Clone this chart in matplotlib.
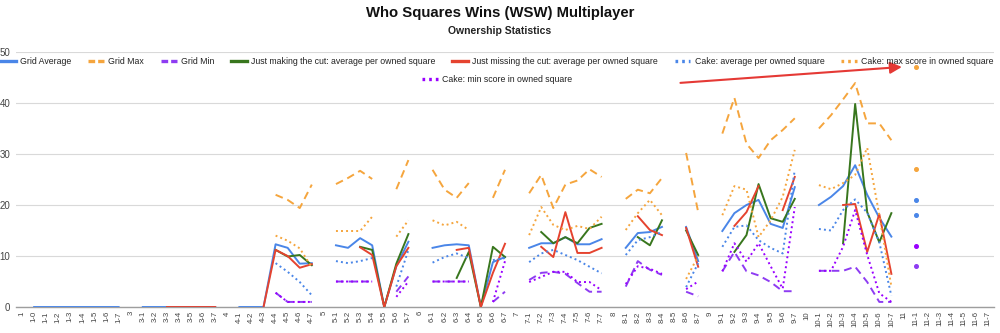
import numpy as np
import matplotlib
matplotlib.use("Agg")
import matplotlib.pyplot as plt
from matplotlib.lines import Line2D

plt.rcParams['font.family'] = ['Liberation Sans', 'DejaVu Sans']

N = None

# x categories (round-level labels)
categories = ["1", "1-0", "1-1", "1-2", "1-3", "1-4", "1-5", "1-6", "1-7",
              "3", "3-1", "3-2", "3-3", "3-4", "3-5", "3-6", "3-7",
              "4", "4-1", "4-2", "4-3", "4-4", "4-5", "4-6", "4-7",
              "5", "5-1", "5-2", "5-3", "5-4", "5-5", "5-6", "5-7",
              "6", "6-1", "6-2", "6-3", "6-4", "6-5", "6-6", "6-7",
              "7", "7-1", "7-2", "7-3", "7-4", "7-5", "7-6", "7-7",
              "8", "8-1", "8-2", "8-3", "8-4", "8-5", "8-6", "8-7",
              "9", "9-1", "9-2", "9-3", "9-4", "9-5", "9-6", "9-7",
              "10", "10-1", "10-2", "10-3", "10-4", "10-5", "10-6", "10-7",
              "11", "11-1", "11-2", "11-3", "11-4", "11-5", "11-6", "11-7"]

grid_avg = [N, 0, 0, 0, 0, 0, 0, 0, 0,
            N, 0, 0, 0, 0, 0, 0, 0,
            N, 0, 0, 0, 12.3, 11.6, 8.5, 8.6,
            N, 12.1, 11.6, 13.5, 12.1, 0, 8.0, 12.8,
            N, 11.6, 12.1, 12.3, 12.1, 0, 8.8, 9.8,
            N, 11.6, 12.5, 12.5, 13.7, 12.3, 12.3, 13.3,
            N, 11.6, 14.5, 14.7, 15.7, N, 15.7, 9.0,
            N, 14.9, 18.4, 20.0, 21.0, 16.3, 15.5, 23.5,
            N, 20.0, 21.6, 23.7, 27.8, 22.0, 17.5, 13.8,
            N, 21.0, N, N, N, N, N, N]

grid_max = [N, N, N, N, N, N, N, N, N,
            N, N, N, N, N, N, N, N,
            N, N, N, N, 22.0, 21.0, 19.4, 24.0,
            N, 24.1, 25.3, 26.7, 25.1, N, 23.1, 28.8,
            N, 26.9, 23.0, 21.4, 24.3, N, 21.4, 26.9,
            N, 22.3, 25.9, 19.4, 24.0, 24.8, 27.0, 25.5,
            N, 21.2, 23.0, 22.3, 25.3, N, 30.2, 18.6,
            N, 34.0, 41.0, 32.0, 29.2, 32.7, 34.7, 37.0,
            N, 35.0, 37.6, 40.7, 43.9, 36.0, 36.0, 32.7,
            N, 47.0, N, N, N, N, N, N]

grid_min = [N, N, N, N, N, N, N, N, N,
            N, N, N, N, N, N, N, N,
            N, N, N, N, 2.8, 1.0, 1.0, 1.0,
            N, 5.0, 5.0, 5.0, 5.0, N, 3.0, 6.0,
            N, 5.0, 5.0, 5.0, 5.0, N, 1.0, 3.0,
            N, 5.3, 6.7, 6.9, 6.5, 4.7, 3.0, 3.0,
            N, 4.0, 9.0, 7.3, 6.3, N, 3.0, 2.1,
            N, 7.0, 10.8, 7.0, 6.2, 4.9, 3.1, 3.1,
            N, 7.1, 7.1, 7.1, 7.9, 4.9, 1.0, 1.0,
            N, 8.0, N, N, N, N, N, N]

making_cut = [N, N, N, N, N, N, N, N, N,
              N, N, N, N, N, N, N, N,
              N, N, N, N, 11.2, 9.9, 10.2, 8.2,
              N, N, N, 11.8, 11.2, 0, 8.5, 14.3,
              N, N, N, 5.7, 10.8, 0, 11.8, 9.8,
              N, N, 14.7, 12.5, 13.7, 12.5, 15.5, 16.3,
              N, N, 13.7, 12.1, 17.0, N, 15.0, 10.2,
              N, N, 10.8, 14.1, 24.1, 17.4, 16.7, 21.2,
              N, N, N, 12.5, 39.8, 18.6, 12.7, 18.4,
              N, N, N, N, N, N, N, N]

missing_cut = [N, N, N, N, N, N, N, N, N,
               N, N, N, 0, 0, 0, 0, 0,
               N, N, N, 0, 11.2, 10.0, 7.7, 8.4,
               N, N, N, 11.7, 10.2, 0, 8.0, 11.6,
               N, N, N, 11.2, 11.6, 0, 6.7, 12.4,
               N, N, 11.8, 9.8, 18.6, 10.6, 10.6, 11.6,
               N, N, 17.8, 15.1, 14.1, N, 15.5, 7.9,
               N, N, 15.9, 18.6, 23.7, N, 19.0, 25.5,
               N, N, N, 20.0, 20.2, 10.8, 18.2, 6.5,
               N, N, N, N, N, N, N, N]

cake_avg = [N, N, N, N, N, N, N, N, N,
            N, N, N, N, N, N, N, N,
            N, N, N, N, 8.6, 6.9, 4.9, 2.3,
            N, 9.0, 8.6, 9.0, 9.6, N, 4.0, 11.2,
            N, 8.7, 9.8, 10.5, 9.6, N, 9.2, 9.6,
            N, 8.8, 10.5, 11.2, 10.2, 9.2, 7.9, 6.6,
            N, 10.2, 13.1, 13.7, 14.7, N, 3.9, 8.6,
            N, 11.8, 15.7, 16.0, 13.1, 11.6, 10.5, 26.9,
            N, 15.3, 15.0, 19.0, 21.1, 18.5, 12.7, 2.2,
            N, 18.0, N, N, N, N, N, N]

cake_max = [N, N, N, N, N, N, N, N, N,
            N, N, N, N, N, N, N, N,
            N, N, N, N, 14.0, 13.0, 11.5, 7.8,
            N, 14.9, 14.9, 14.9, 17.7, N, 13.8, 17.0,
            N, 17.0, 16.0, 16.7, 15.1, N, N, N,
            N, 14.1, 19.6, 16.1, 15.1, 15.9, 15.3, 17.7,
            N, 15.1, 18.4, 21.0, 18.0, N, 5.5, 10.0,
            N, 18.0, 23.7, 23.0, 13.7, 17.0, 21.6, 30.8,
            N, 23.9, 23.1, 24.3, 25.9, 31.2, 18.0, 4.0,
            N, 27.0, N, N, N, N, N, N]

cake_min = [N, N, N, N, N, N, N, N, N,
            N, N, N, N, N, N, N, N,
            N, N, N, N, 2.8, 1.0, 1.0, 1.0,
            N, 5.0, 5.0, 5.0, 5.0, N, 2.0, 5.0,
            N, 5.0, 5.0, 5.0, 5.0, N, 1.0, 9.0,
            N, 4.9, 5.9, 6.9, 6.9, 4.9, 4.9, 3.3,
            N, 4.5, 8.0, 7.5, 6.5, N, 3.5, 5.0,
            N, 7.0, 12.5, 8.9, 12.5, 8.0, 3.6, 19.6,
            N, 7.1, 7.1, 11.8, 19.0, 10.2, 2.7, 1.0,
            N, 12.0, N, N, N, N, N, N]

dash = (0, (4, 2.5))
dot = (0, (1, 1.6))
series = [
    ("Grid Average", grid_avg, "#4a86e8", "-"),
    ("Grid Max", grid_max, "#f5a53d", dash),
    ("Grid Min", grid_min, "#8e3cf2", dash),
    ("Just making the cut: average per owned square", making_cut, "#38761d", "-"),
    ("Just missing the cut: average per owned square", missing_cut, "#e5432f", "-"),
    ("Cake: average per owned square", cake_avg, "#4a86e8", dot),
    ("Cake: max score in owned square", cake_max, "#f5a53d", dot),
    ("Cake: min score in owned square", cake_min, "#9900ff", dot),
]
# shorter patterns for the legend keys
legend_ls = {"-": "-", dash: (0, (2.0, 0.9)), dot: (0, (0.8, 1.2))}

fig = plt.figure(figsize=(10, 3.33), dpi=100)
ax = fig.add_axes([0.016, 0.078, 0.978, 0.766])

x = np.arange(len(categories))
handles = []
for k, (name, vals, color, ls) in enumerate(series):
    y = np.array([np.nan if v is None else v for v in vals], dtype=float)
    ax.plot(x, y, color=color, linestyle=ls, lw=1.4, zorder=3 + k)
    # points with no neighbours get a dot, like the sheet does
    prev = np.r_[np.nan, y[:-1]]
    nxt = np.r_[y[1:], np.nan]
    iso = ~np.isnan(y) & np.isnan(prev) & np.isnan(nxt)
    ax.plot(x[iso], y[iso], "o", color=color, ms=2.6, zorder=3 + k)
    handles.append(Line2D([], [], color=color, linestyle=legend_ls[ls], lw=2.4))

ax.set_xlim(-0.5, len(categories) - 0.5)
ax.set_ylim(0, 50)
ax.set_yticks([0, 10, 20, 30, 40, 50])
ax.set_xticks(x)
ax.set_xticklabels(categories, rotation=90, fontsize=5.6, color="#444444")
ax.tick_params(axis="both", length=0)
ax.tick_params(axis="y", labelsize=7, labelcolor="#444444", pad=4)
ax.tick_params(axis="x", pad=3)
ax.grid(axis="y", color="#d9d9d9", lw=0.8)
ax.set_axisbelow(True)
for s in ["top", "right", "left"]:
    ax.spines[s].set_visible(False)
ax.spines["bottom"].set_color("#9e9e9e")
ax.spines["bottom"].set_linewidth(1.0)
ax.spines["bottom"].set_zorder(2.5)

# red annotation arrow pointing at the 11-1 max
ax.annotate("", xy=(73.1, 47.1), xytext=(54.3, 43.9),
            arrowprops=dict(arrowstyle="-|>,head_length=0.7,head_width=0.35",
                            color="#e53935", lw=1.5), zorder=20)

fig.text(0.5, 1 - 13 / 333, "Who Squares Wins (WSW) Multiplayer",
         ha="center", va="center", fontsize=10.7, fontweight="bold", color="#111111")
fig.text(0.5, 1 - 31 / 333, "Ownership Statistics",
         ha="center", va="center", fontsize=7.5, fontweight="bold", color="#222222")

names = [s[0] for s in series]
fig.legend(handles[:7], names[:7], ncol=7, loc="center",
           bbox_to_anchor=(0.497, 1 - 62 / 333), frameon=False,
           fontsize=6.3, handlelength=1.8, handletextpad=0.5,
           columnspacing=1.9, labelcolor="#222222")
fig.legend(handles[7:], names[7:], ncol=1, loc="center",
           bbox_to_anchor=(0.497, 1 - 80 / 333), frameon=False,
           fontsize=6.3, handlelength=1.8, handletextpad=0.5, labelcolor="#222222")

fig.savefig("out.png", dpi=100)
